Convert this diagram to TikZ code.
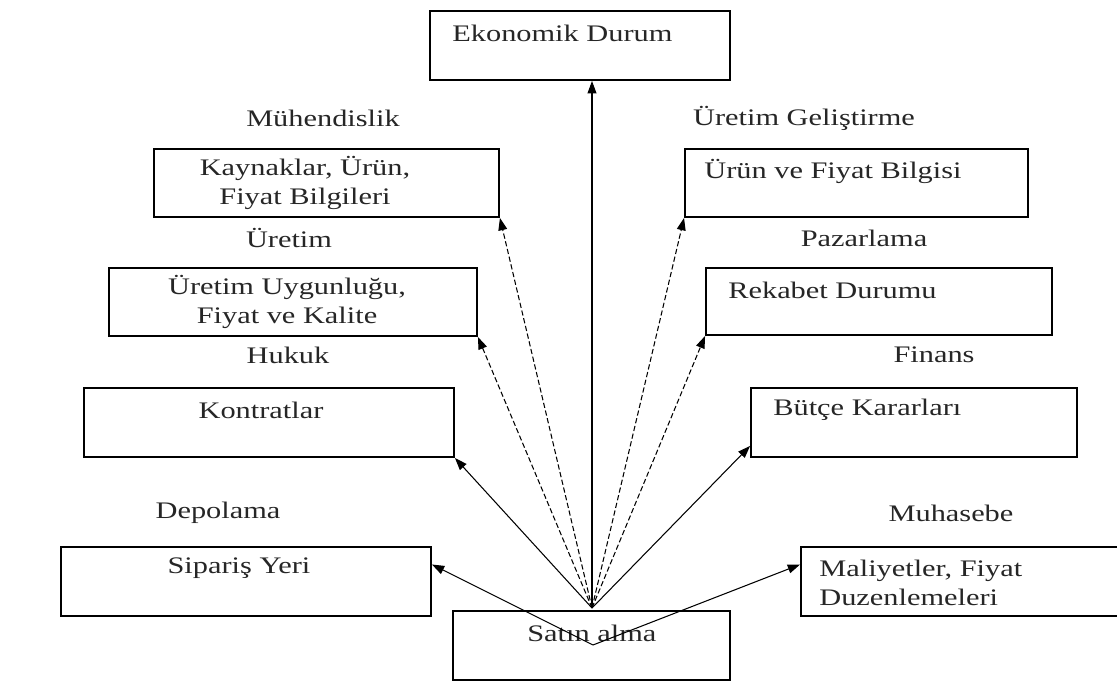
\documentclass[tikz,border=0pt]{standalone}
\usepackage{fontspec}
\setmainfont{Liberation Serif}[FakeStretch=1.28]
\usetikzlibrary{arrows.meta,calc}

\begin{document}
\begin{tikzpicture}[x=0.02cm, y=-0.02cm,
    box/.style={draw, line width=1.1pt, inner sep=0pt},
    txt/.style={font=\fontsize{13.5}{16.5}\selectfont, text=black!85, inner sep=0pt, align=center},
    arr/.style={line width=0.6pt, -{Triangle[length=7pt, width=5pt]}},
    dsh/.style={arr, dash pattern=on 3pt off 1.5pt}]
      \useasboundingbox (0,0) rectangle (1117,682);
      % Boxes:
      \node[box, minimum width=6cm, minimum height=1.38cm] (ekon) at (580,45.5) {};
      \node[box, minimum width=6.9cm, minimum height=1.36cm] (kayn) at (326.5,183) {};
      \node[box, minimum width=7.36cm, minimum height=1.36cm] (uret) at (293,302) {};
      \node[box, minimum width=7.4cm, minimum height=1.38cm] (kont) at (269,422.5) {};
      \node[box, minimum width=7.4cm, minimum height=1.38cm] (sip) at (246,581.5) {};
      \node[box, minimum width=5.54cm, minimum height=1.38cm] (satin) at (591.5,645.5) {};
      \node[box, minimum width=6.86cm, minimum height=1.36cm] (urun) at (856.5,183) {};
      \node[box, minimum width=6.92cm, minimum height=1.34cm] (rek) at (879,301.5) {};
      \node[box, minimum width=6.52cm, minimum height=1.38cm] (butce) at (914,422.5) {};
      \node[box, minimum width=6.52cm, minimum height=1.38cm] (mal) at (964,581.5) {};

      % Texts in the boxes:
      \node[txt, anchor=west] (ekont) at (452,33) {Ekonomik Durum};
      \node[txt] (kaynt) at (305,182.5) {Kaynaklar, Ürün,\\Fiyat Bilgileri};
      \node[txt] (urett) at (287,302) {Üretim Uygunluğu,\\Fiyat ve Kalite};
      \node[txt] (kontt) at (261,410) {Kontratlar};
      \node[txt] (sipt) at (239,568) {Sipariş Yeri};
      \node[txt, anchor=west] (satint) at (527,633) {Satın alma};
      \node[txt, anchor=west] (urunt) at (704,171) {Ürün ve Fiyat Bilgisi};
      \node[txt, anchor=west] (rekt) at (728,290) {Rekabet Durumu};
      \node[txt, anchor=west] (butcet) at (773,410) {Bütçe Kararları};
      \node[txt, anchor=west, align=left] (malt) at (819,582.5) {Maliyetler, Fiyat\\Duzenlemeleri};

      % Departments:
      \node[txt] (muh) at (323,118) {Mühendislik};
      \node[txt] (uretim) at (289,238) {Üretim};
      \node[txt] (hukuk) at (288,355) {Hukuk};
      \node[txt] (depo) at (218,513) {Depolama};
      \node[txt] (gel) at (804,118) {Üretim Geliştirme};
      \node[txt] (paz) at (864,238) {Pazarlama};
      \node[txt] (fin) at (934,355) {Finans};
      \node[txt] (muhas) at (951,513) {Muhasebe};

      % Arrows:
      \coordinate (fan) at (592,608);
      \coordinate (low) at (593,645);
      \draw[arr] (fan) -- (fan |- ekon.south);
      \draw[dsh] (fan) -- (kayn.south east);
      \draw[dsh] (fan) -- (uret.south east);
      \draw[arr] (fan) -- (kont.south east);
      \draw[dsh] (fan) -- (urun.south west);
      \draw[dsh] (fan) -- (rek.south west);
      \draw[arr] (fan) -- ($(butce.south west)+(0,-12)$);
      \draw[arr] (low) -- ($(sip.east)+(0,-17)$);
      \draw[arr] (low) -- ($(mal.west)+(0,-17)$);
    \end{tikzpicture}
\end{document}
